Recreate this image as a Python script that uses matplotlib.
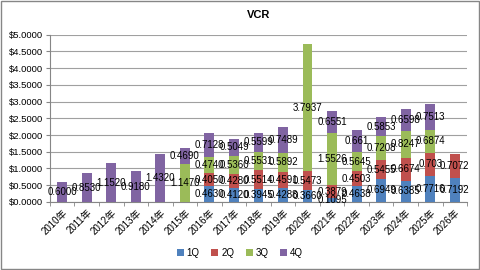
import numpy as np
import matplotlib
matplotlib.use("Agg")
import matplotlib.pyplot as plt
from matplotlib.patches import Rectangle

plt.rcParams['font.family'] = ['Liberation Sans', 'Noto Sans CJK SC']

years = ["2010年", "2011年", "2012年", "2013年", "2014年", "2015年", "2016年", "2017年", "2018年",
         "2019年", "2020年", "2021年", "2022年", "2023年", "2024年", "2025年", "2026年"]
q1 = [0, 0, 0, 0, 0, 0, 0.4630, 0.4120, 0.3945, 0.4288, 0.3660, 0.1095, 0.4638, 0.6949, 0.6385, 0.7716, 0.7192]
q2 = [0, 0, 0, 0, 0, 0, 0.4050, 0.4280, 0.5514, 0.4591, 0.5473, 0.3879, 0.4503, 0.5455, 0.6674, 0.7030, 0.7072]
q3 = [0, 0, 0, 0, 0, 1.1470, 0.4740, 0.5360, 0.5531, 0.5892, 3.7937, 1.5526, 0.5645, 0.7208, 0.8247, 0.6874, 0]
q4 = [0.6000, 0.8530, 1.1520, 0.9180, 1.4320, 0.4690, 0.7128, 0.5049, 0.5599, 0.7489, 0, 0.6551, 0.6610, 0.5853, 0.6598, 0.7513, 0]
# labels as printed in the source (a couple drop trailing zeros)
short_labels = {0.703: "0.703", 0.661: "0.661"}
series = ["1Q", "2Q", "3Q", "4Q"]
colors = ["#4F81BD", "#C0504D", "#9BBB59", "#8064A2"]

fig = plt.figure(figsize=(4.8, 2.7), dpi=100)
ax = fig.add_axes([0.104, 0.252, 0.869, 0.62])

x = np.arange(len(years))
bottom = np.zeros(len(years))
for name, vals, col in zip(series, [q1, q2, q3, q4], colors):
    vals = np.array(vals)
    ax.bar(x, vals, 0.4, bottom=bottom, color=col, label=name, zorder=3)
    for i, v in enumerate(vals):
        if v > 0:
            txt = short_labels.get(round(v, 4), f"{v:.4f}")
            ax.text(x[i], bottom[i] + v / 2, txt, ha="center", va="center", fontsize=7, zorder=4)
    bottom += vals

ax.set_xlim(-0.5, len(years) - 0.5)
ax.set_ylim(0, 5)
ticks = np.arange(0, 5.01, 0.5)
ax.set_yticks(ticks)
ax.set_yticklabels([f"${v:.4f}" for v in ticks], fontsize=6.8)
ax.set_xticks(x)
ax.set_xticklabels(years, rotation=45, ha="right", rotation_mode="anchor", fontsize=7)
ax.set_xticks(np.arange(-0.5, len(years)), minor=True)
ax.tick_params(axis="x", which="major", length=0, pad=4)
ax.tick_params(axis="x", which="minor", length=3, color="#868686")
ax.tick_params(axis="y", length=3, color="#868686", pad=2)
ax.grid(axis="y", color="#a0a0a0", linewidth=0.8, zorder=0)
for s in ["top", "right"]:
    ax.spines[s].set_visible(False)
ax.spines["left"].set_color("#868686")
ax.spines["bottom"].set_color("#868686")

ax.set_title("VCR", fontsize=8, fontweight="bold", pad=12)

fig.legend(loc="center", bbox_to_anchor=(0.5, 0.063), ncol=4, frameon=False, fontsize=7,
           handlelength=0.7, handleheight=0.7, handletextpad=0.3, columnspacing=1.2)

fig.patches.append(Rectangle((0.002, 0.004), 0.995, 0.992, transform=fig.transFigure,
                             fill=False, edgecolor="#868686", linewidth=1))

fig.savefig("out.png", dpi=100)
